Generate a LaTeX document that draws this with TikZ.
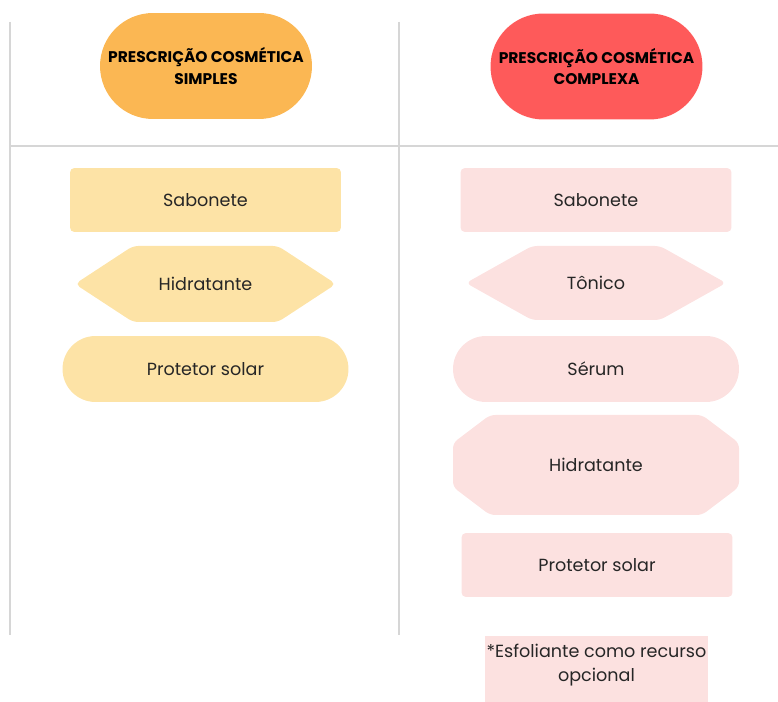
\documentclass[tikz,border=0pt]{standalone}
\usepackage{fontspec}
\setmainfont{Poppins}

\definecolor{rulegray}{HTML}{D6D6D6}
\definecolor{simplehead}{HTML}{FBB753}
\definecolor{complexhead}{HTML}{FE5A5A}
\definecolor{simplefill}{HTML}{FDE3A6}
\definecolor{complexfill}{HTML}{FCE1E0}
\definecolor{inkdark}{HTML}{262626}

\begin{document}
\begin{tikzpicture}[x=0.02cm,y=-0.02cm,
	headbox/.style={rectangle, rounded corners=1.06cm, minimum width=4.24cm, minimum height=2.12cm,
		align=center, font=\fontsize{8.8}{12}\selectfont\bfseries, text=black, inner sep=0pt},
	stepbar/.style={rectangle, rounded corners=2.5pt, minimum width=5.42cm, minimum height=1.28cm,
		font=\fontsize{10}{12}\selectfont, text=inkdark},
	steppill/.style={rectangle, rounded corners=0.66cm, minimum width=5.72cm, minimum height=1.32cm,
		font=\fontsize{10}{12}\selectfont, text=inkdark},
	steplabel/.style={font=\fontsize{10}{12}\selectfont, text=inkdark, align=center}]
	\useasboundingbox (0,0) rectangle (778,702);
	
	% Grid lines
	\coordinate (TL) at (10,22);
	\coordinate (BL) at (10,635);
	\coordinate (TM) at (399,22);
	\coordinate (BM) at (399,635);
	\coordinate (HL) at (10,146);
	\coordinate (HR) at (778,146);
	\draw[rulegray, line width=0.6pt] (TL) -- (BL);
	\draw[rulegray, line width=0.6pt] (TM) -- (BM);
	\draw[rulegray, line width=0.6pt] (HL) -- (HR);
	
	% Column headers
	\node[headbox, fill=simplehead] (simple) at (206,66) {PRESCRIÇÃO COSMÉTICA\\SIMPLES};
	\node[headbox, fill=complexhead] (complex) at (596.5,66.5) {PRESCRIÇÃO COSMÉTICA\\COMPLEXA};
	
	% Simple routine
	\node[stepbar, fill=simplefill] (sabS) at (205.5,200) {Sabonete};
	\fill[simplefill, rounded corners=3pt] (75,284) -- (133,246) -- (278,246) -- (336,284)
		-- (278,322) -- (133,322) -- cycle;
	\node[steplabel] (hidS) at (205.5,284) {Hidratante};
	\node[steppill, fill=simplefill] (protS) at (205.5,369) {Protetor solar};
	
	% Complex routine
	\node[stepbar, fill=complexfill] (sabC) at (596,200) {Sabonete};
	\fill[complexfill, rounded corners=3pt] (466,283) -- (532,246) -- (660,246) -- (726,283)
		-- (660,320) -- (532,320) -- cycle;
	\node[steplabel] (tonC) at (596,283) {Tônico};
	\node[steppill, fill=complexfill] (serC) at (596,369) {Sérum};
	\fill[complexfill, rounded corners=3pt] (453,443) -- (490,415) -- (702,415) -- (739,443)
		-- (739,487) -- (702,515) -- (490,515) -- (453,487) -- cycle;
	\node[steplabel] (hidC) at (596,465) {Hidratante};
	\node[stepbar, fill=complexfill] (protC) at (597,565) {Protetor solar};
	
	% Optional note
	\fill[complexfill] (485,636) rectangle (708,702);
	\node[steplabel, font=\fontsize{10}{13.5}\selectfont] (note) at (596.5,665) {*Esfoliante como recurso\\opcional};
\end{tikzpicture}
\end{document}
